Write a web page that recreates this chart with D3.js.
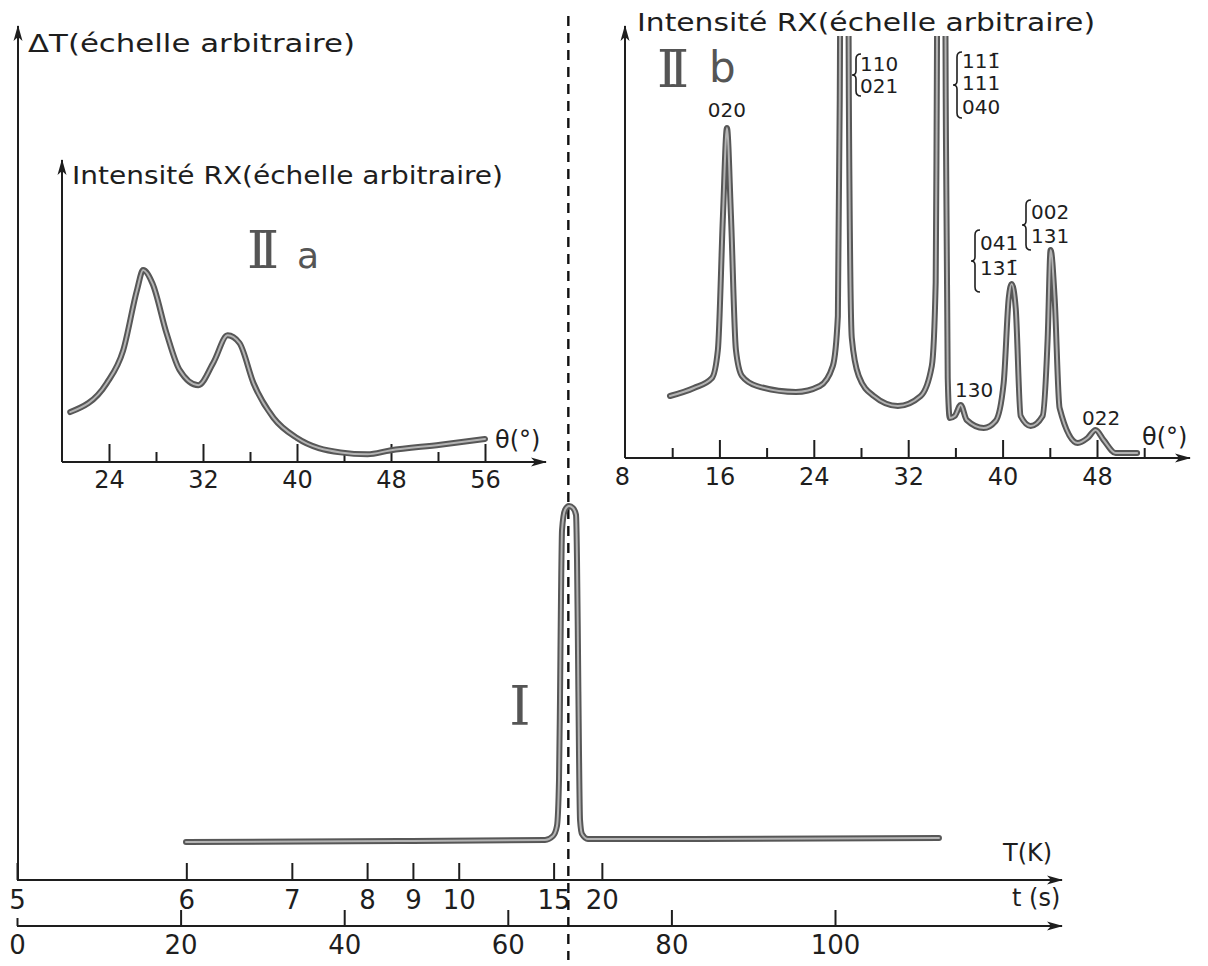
<!DOCTYPE html>
<html>
<head>
<meta charset="utf-8">
<script src="https://cdn.jsdelivr.net/npm/d3@7"></script>
<style>
  html, body { margin: 0; padding: 0; background: #fff; }
  svg { display: block; }
</style>
</head>
<body>
<svg id="chart" width="1208" height="966"></svg>
<script>
// ---------- DATA ----------
// Curve I : DTA signal vs heating time
const dtaTime  = [20.66, 46.82, 64.55, 65.53, 66.01, 66.26, 66.38, 66.50, 66.63, 66.99, 67.48, 67.97, 68.34, 68.46, 68.58, 68.70, 68.83, 69.07, 69.80, 83.50, 112.71];
const dtaDelta = [3.8, 3.9, 4.0, 4.4, 5.4, 10.0, 18.0, 28.0, 35.0, 37.0, 37.4, 37.2, 36.5, 32.0, 23.0, 13.0, 6.0, 4.6, 4.1, 4.1, 4.2];
const transitionTime = 67.4;

// T(K) ticks and the heating time at which each temperature is reached
const tempTicks     = [5, 6, 7, 8, 9, 10, 15, 20];
const tempTickTimes = [0, 20.7, 33.6, 42.8, 48.4, 54.0, 65.6, 71.5];
const timeTicks     = [0, 20, 40, 60, 80, 100];

// Panel IIa : X-ray intensity vs theta
const aTheta     = [20.7, 23.8, 25.2, 26.4, 26.9, 27.7, 28.9, 30.0, 31.6, 32.9, 34.1, 35.1, 36.3, 38.0, 40.0, 43.7, 46.0, 47.9, 52.2, 56.0];
const aIntensity = [26, 41, 58, 90, 100, 93, 67, 48, 40, 52, 66, 62, 41, 23, 12.5, 5, 4, 6, 9, 12];
const aTicksMajor = [24, 32, 40, 48, 56];
const aTicksMinor = [28, 36, 44, 52];

// Panel IIb : X-ray intensity vs theta
const bTheta     = [11.81, 13.84, 15.37, 15.87, 16.30, 16.64, 16.98, 17.40, 17.91, 19.18, 22.48, 24.51, 25.61, 26.04, 26.20, 26.37, 26.80, 26.97, 27.22, 27.81, 29.08, 31.12, 33.06, 34.00, 34.33, 34.42, 34.59, 35.01, 35.18, 35.35, 35.52, 35.94, 36.45, 36.96, 38.40, 39.41, 40.09, 40.52, 40.77, 41.11, 41.53, 42.38, 43.39, 43.82, 44.07, 44.41, 44.83, 46.36, 47.20, 47.88, 48.56, 49.58, 51.40];
const bIntensity = [31, 35, 40, 54, 121, 165, 121, 54, 41, 36, 33, 36, 46, 71, 180, 400, 400, 180, 60, 41, 31, 26, 31, 46, 88, 180, 400, 400, 180, 40, 20, 21, 26.5, 19, 15, 18.5, 37.5, 80, 87, 75, 21, 16, 21, 60, 104, 80, 25, 7.5, 10, 14, 9, 2.5, 2.5];
const bTicksMajor = [16, 24, 32, 40, 48];
const bTicksMinor = [12, 20, 28, 36, 44, 52];
const bTickLabels = [8, 16, 24, 32, 40, 48];

// ---------- DRAW ----------
const ink = "#1e1e1e";
const svg = d3.select("#chart")
  .attr("font-family", "DejaVu Sans, sans-serif").attr("fill", ink);

const defs = svg.append("defs");
defs.append("marker").attr("id", "arrow")
  .attr("viewBox", "-16 -6 18 12").attr("refX", 0).attr("refY", 0)
  .attr("markerWidth", 18).attr("markerHeight", 12)
  .attr("markerUnits", "userSpaceOnUse").attr("orient", "auto")
  .append("path").attr("d", "M1,0 L-15,-4.5 L-11,0 L-15,4.5 Z").attr("fill", ink);

function axisLine(x1, y1, x2, y2) {
  svg.append("line").attr("x1", x1).attr("y1", y1).attr("x2", x2).attr("y2", y2)
    .attr("stroke", ink).attr("stroke-width", 2).attr("marker-end", "url(#arrow)");
}
function styleAxis(g, size) {
  g.select(".domain").remove();
  g.attr("font-family", "DejaVu Sans, sans-serif").attr("font-size", size);
  g.selectAll(".tick line").attr("stroke", ink).attr("stroke-width", 2);
  g.selectAll(".tick text").attr("fill", ink);
}
function doubleCurve(parent, pts, x, y) {
  const line = d3.line().x(d => x(d[0])).y(d => y(d[1])).curve(d3.curveMonotoneX);
  parent.append("path").attr("d", line(pts)).attr("fill", "none")
    .attr("stroke", "#575757").attr("stroke-width", 6).attr("stroke-linecap", "round").attr("stroke-linejoin", "round");
  parent.append("path").attr("d", line(pts)).attr("fill", "none")
    .attr("stroke", "#b4b4b4").attr("stroke-width", 2).attr("stroke-linecap", "round").attr("stroke-linejoin", "round");
}
function brace(x, y0, y1) {
  const h = y1 - y0, m = y0 + h / 2;
  const p = d3.path();
  p.moveTo(x + 5, y0); p.quadraticCurveTo(x, y0, x, y0 + 5);
  p.lineTo(x, m - 4); p.quadraticCurveTo(x, m, x - 4, m);
  p.quadraticCurveTo(x, m, x, m + 4);
  p.lineTo(x, y1 - 5); p.quadraticCurveTo(x, y1, x + 5, y1);
  svg.append("path").attr("d", p.toString()).attr("fill", "none").attr("stroke", ink).attr("stroke-width", 1.6);
}
function label(txt, x, y, size, opts = {}) {
  const t = svg.append("text").attr("x", x).attr("y", y).attr("font-size", size).text(txt);
  if (opts.anchor) t.attr("text-anchor", opts.anchor);
  if (opts.len) t.attr("textLength", opts.len).attr("lengthAdjust", "spacingAndGlyphs");
  if (opts.family) t.attr("font-family", opts.family);
  if (opts.fill) t.attr("fill", opts.fill);
  if (opts.ls) t.attr("letter-spacing", opts.ls);
  return t;
}

// ----- Main chart (I) -----
const tScale = d3.scaleLinear().domain([0, 100]).range([17, 835]);
const TScale = d3.scaleLinear().domain(tempTicks).range(tempTickTimes.map(tScale));
const dtaY = d3.scaleLinear().domain([0, 85]).range([880, 30]);

axisLine(18, 880, 18, 26);
axisLine(17, 880, 1062, 880);
axisLine(17, 926, 1062, 926);

const gT = svg.append("g").attr("transform", "translate(0,880)")
  .call(d3.axisBottom(TScale).tickValues(tempTicks).tickFormat(d3.format("d"))
    .tickSizeInner(-17).tickSizeOuter(0).tickPadding(11));
styleAxis(gT, 26);
const gt = svg.append("g").attr("transform", "translate(0,926)")
  .call(d3.axisBottom(tScale).tickValues(timeTicks).tickFormat(d3.format("d"))
    .tickSizeInner(-16).tickSizeOuter(0).tickPadding(10));
styleAxis(gt, 26);
gt.selectAll(".tick").filter(d => d === 0).select("line").attr("y2", -8);

// dashed transition line
const xTr = tScale(transitionTime);
svg.append("line").attr("x1", xTr).attr("x2", xTr).attr("y1", 16).attr("y2", 960)
  .attr("stroke", "#111").attr("stroke-width", 2.4).attr("stroke-dasharray", "10,7");

doubleCurve(svg, dtaTime.map((t, i) => [t, dtaDelta[i]]), tScale, dtaY);

label("\u0394T(échelle arbitraire)", 28, 52, 25, {len: 327});
label("T(K)", 1003, 861, 24);
label("t (s)", 1012, 906, 24);
label("I", 520, 725, 54, {anchor: "middle", family: "DejaVu Serif, serif", fill: "#555"});

// ----- Panel IIa -----
const aX = d3.scaleLinear().domain([20, 56]).range([62, 485]);
const aY = d3.scaleLinear().domain([0, 100]).range([462, 270]);
axisLine(aX(20), 462, aX(20), 160);
axisLine(aX(20), 462, 546, 462);
const gA = svg.append("g").attr("transform", "translate(0,462)")
  .call(d3.axisBottom(aX).tickValues(aTicksMajor).tickSizeInner(-18).tickSizeOuter(0).tickPadding(9));
styleAxis(gA, 24);
const gAm = svg.append("g").attr("transform", "translate(0,462)")
  .call(d3.axisBottom(aX).tickValues(aTicksMinor).tickFormat("").tickSizeInner(-10).tickSizeOuter(0));
styleAxis(gAm, 24);
doubleCurve(svg, aTheta.map((t, i) => [t, aIntensity[i]]), aX, aY);
label("Intensité RX(échelle arbitraire)", 72, 184, 25, {len: 431});
label("\u03B8(°)", 495, 448, 24);
label("II", 247, 268, 52, {family: "DejaVu Serif, serif", fill: "#555", ls: "-9px"});
label("a", 297, 268, 36, {fill: "#555"});

// ----- Panel IIb -----
const bX = d3.scaleLinear().domain([8, 48]).range([625, 1097]);
const bY = d3.scaleLinear().domain([0, 100]).range([458, 258]);
axisLine(625, 458, 625, 26);
axisLine(625, 458, 1190, 458);
const gB = svg.append("g").attr("transform", "translate(0,458)")
  .call(d3.axisBottom(bX).tickValues(bTicksMajor).tickFormat("").tickSizeInner(-18).tickSizeOuter(0));
styleAxis(gB, 24);
const gBm = svg.append("g").attr("transform", "translate(0,458)")
  .call(d3.axisBottom(bX).tickValues(bTicksMinor).tickFormat("").tickSizeInner(-10).tickSizeOuter(0));
styleAxis(gBm, 24);
const gBl = svg.append("g").attr("transform", "translate(0,458)")
  .call(d3.axisBottom(bX).tickValues(bTickLabels).tickSize(0).tickPadding(10));
styleAxis(gBl, 24);
gBl.selectAll(".tick").filter(d => d === 8).select("text").attr("dx", -3);

defs.append("clipPath").attr("id", "clipB").append("rect")
  .attr("x", 600).attr("y", 36).attr("width", 600).attr("height", 430);
const gBc = svg.append("g").attr("clip-path", "url(#clipB)");
doubleCurve(gBc, bTheta.map((t, i) => [t, bIntensity[i]]), bX, bY);

label("Intensité RX(échelle arbitraire)", 637, 31, 25, {len: 458});
label("\u03B8(°)", 1142, 445, 24);
label("II", 657, 87, 52, {family: "DejaVu Serif, serif", fill: "#555", ls: "-9px"});
label("b", 709, 82, 42, {fill: "#555"});

// reflection labels
label("020", bX(16.64), 117, 20, {anchor: "middle"});
brace(856, 54, 96);
label("110", 860, 71, 20);
label("021", 860, 93, 20);
brace(957, 52, 118);
label("11\u0031\u0304", 962, 68, 20);
label("111", 962, 90, 20);
label("040", 962, 114, 20);
brace(1026, 200, 250);
label("002", 1031, 219, 20);
label("131", 1031, 243, 20);
brace(975, 230, 292);
label("041", 980, 250, 20);
label("13\u0031\u0304", 980, 275, 20);
label("130", 955, 397, 20);
label("022", 1082, 425, 20);
</script>
</body>
</html>
